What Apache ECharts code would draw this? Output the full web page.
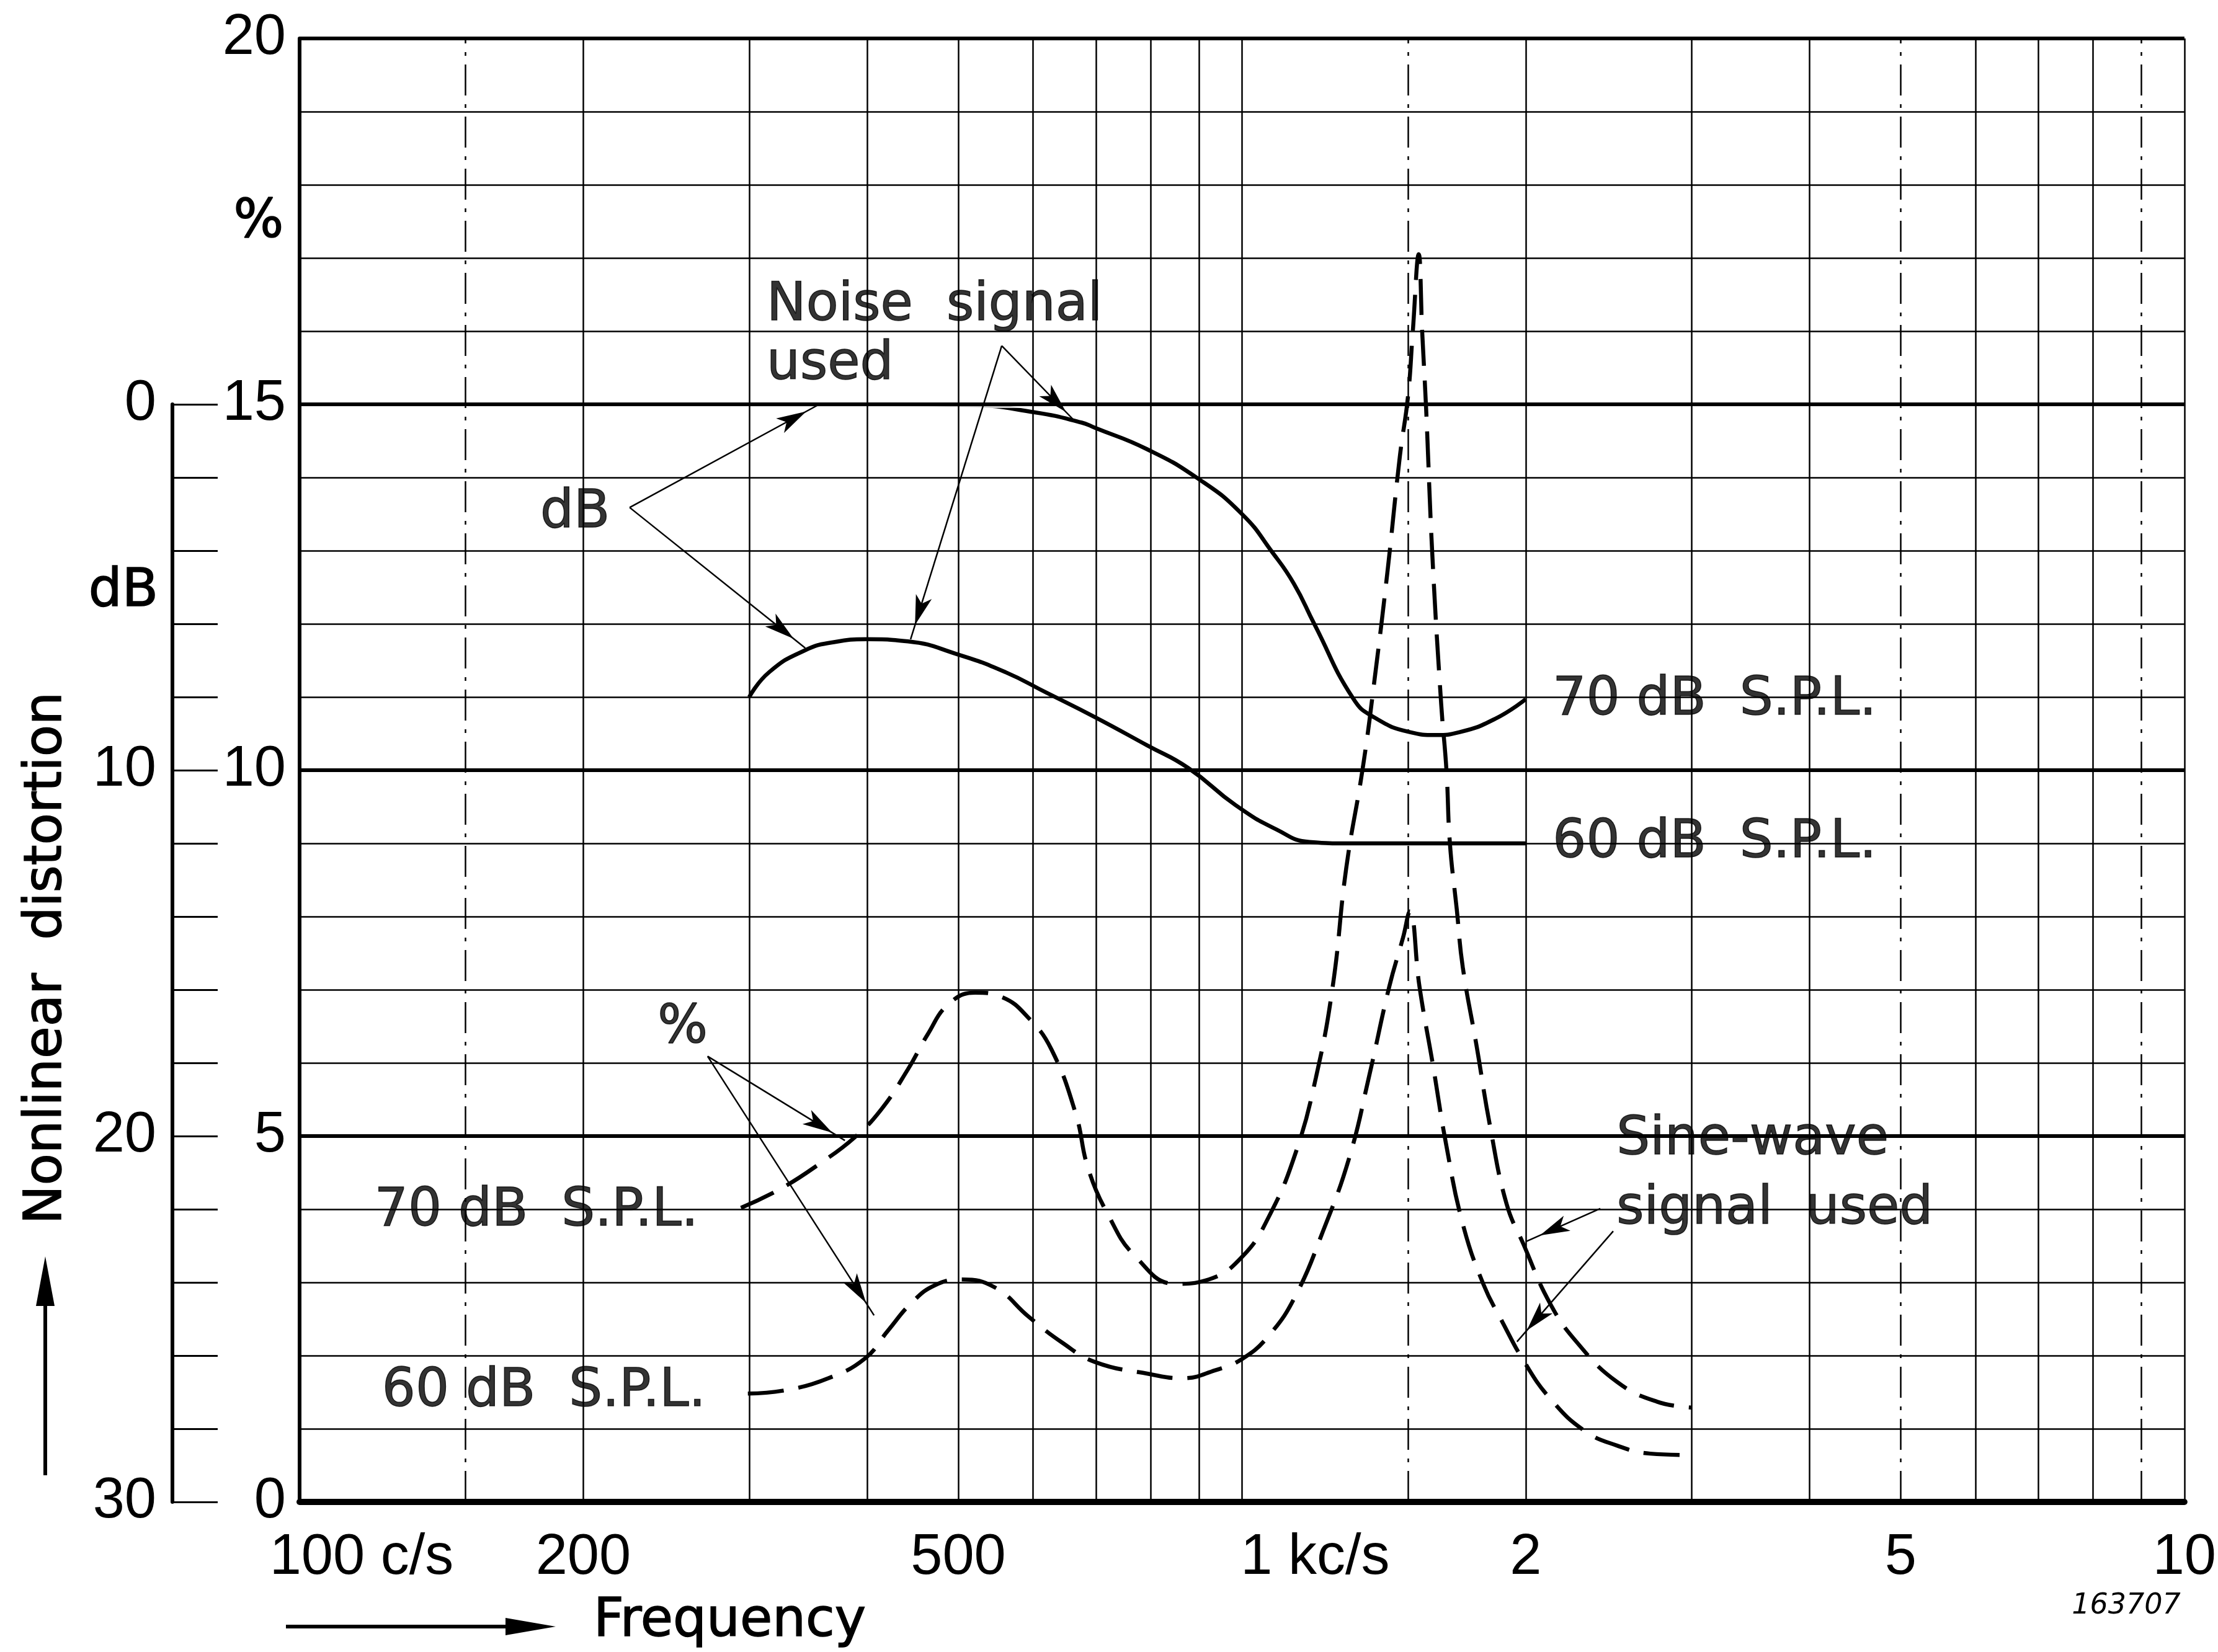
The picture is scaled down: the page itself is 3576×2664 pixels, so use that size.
<!DOCTYPE html>
<html>
<head>
<meta charset="utf-8">
<title>Nonlinear distortion</title>
<script src="https://cdn.jsdelivr.net/npm/echarts@6/dist/echarts.min.js"></script>
<style>
  html, body { margin: 0; padding: 0; background: #fff; }
  #chart { width: 3576px; height: 2664px; }
</style>
</head>
<body>
<div id="chart"></div>
<script>
// frequency in c/s, distortion in %
var noise70Freq = [300, 356, 420, 514, 603, 676, 698, 792, 897, 1000, 1078, 1135, 1193, 1312, 1382, 1507, 1605, 1702, 1855, 2000];
var noise70Pct  = [15.0, 15.0, 15.0, 14.99, 14.89, 14.75, 14.68, 14.39, 13.99, 13.5, 12.97, 12.55, 12.0, 10.98, 10.72, 10.52, 10.48, 10.52, 10.70, 10.97];

var noise60Freq = [300, 315, 344, 369, 400, 442, 500, 561, 620, 697, 793, 877, 985, 1088, 1179, 1300, 1600, 2000];
var noise60Pct  = [11.0, 11.34, 11.64, 11.75, 11.79, 11.76, 11.58, 11.34, 11.06, 10.73, 10.34, 10.03, 9.52, 9.19, 9.02, 9.0, 9.0, 9.0];

var sine70Freq = [294, 324, 358, 388, 414, 442, 464, 488, 521, 556, 594, 628, 666, 687, 722, 770, 850, 922, 1002, 1069,
                  1140, 1198, 1248, 1290, 1344, 1385, 1427, 1471, 1500, 1518, 1540, 1553, 1568, 1592, 1627, 1648, 1662, 1690, 1715, 1774,
                  1833, 1909, 1988, 2121, 2267, 2500, 2757, 3000];
var sine70Pct  = [4.02, 4.28, 4.64, 4.98, 5.36, 5.91, 6.39, 6.80, 6.96, 6.90, 6.61, 6.18, 5.31, 4.55, 3.91, 3.36, 2.98, 3.04, 3.36, 3.91,
                  4.77, 5.80, 7.04, 8.66, 10.05, 11.32, 12.72, 14.30, 15.10, 16.0, 17.05, 16.0, 14.95, 12.95, 10.9, 10.0, 9.0, 8.1, 7.31, 6.23,
                  5.14, 4.07, 3.53, 2.72, 2.18, 1.64, 1.37, 1.29];

var sine60Freq = [299, 329, 364, 398, 421, 446, 472, 504, 547, 594, 644, 699, 796, 864, 937, 1002, 1069, 1140, 1218, 1300,
                  1366, 1433, 1482, 1507, 1543, 1595, 1647, 1715, 1803, 1891, 1994, 2121, 2305, 2500, 2712, 3000];
var sine60Pct  = [1.48, 1.53, 1.69, 1.96, 2.34, 2.72, 2.96, 3.04, 2.93, 2.53, 2.18, 1.91, 1.75, 1.69, 1.80, 1.96, 2.28, 2.82, 3.69, 4.71,
                  5.85, 7.04, 7.71, 8.07, 7.04, 5.96, 4.88, 3.80, 2.98, 2.45, 1.91, 1.42, 0.98, 0.77, 0.66, 0.64];

// axis ticks
var xLabelValues = [100, 200, 500, 1000, 2000, 5000, 10000];
var xLabelTexts  = ['100', '200', '500', '1', '2', '5', '10'];
var xLabelUnits  = [' c/s', '', '', ' kc/s', '', '', ''];
var vGridFreq = [150, 200, 300, 400, 500, 600, 700, 800, 900, 1000, 1500, 2000, 3000, 4000, 5000, 6000, 7000, 8000, 9000, 10000];
var vGridDashed = [150, 1500, 5000, 9000];
var hGridPct = [1, 2, 3, 4, 5, 6, 7, 8, 9, 10, 11, 12, 13, 14, 15, 16, 17, 18, 19, 20];
var hGridMajor = [5, 10, 15, 20];

// annotations: [freq, %] anchors
var notes = [
    { name: 'Noise  signal\nused', value: [285, 15.94], label: { align: 'left', padding: [22, 40, 22, 62], lineHeight: 95 } },
    { name: 'dB', value: [196, 13.51], label: { align: 'center', padding: [10, 16] } },
    { name: '%', value: [255, 6.47], label: { align: 'center', padding: [10, 16] } },
    { name: '70 dB  S.P.L.', value: [273, 3.97], label: { align: 'right', padding: [14, 20, 14, 30] } },
    { name: '60 dB  S.P.L.', value: [278, 1.5], label: { align: 'right', padding: [14, 20, 14, 30] } },
    { name: '70 dB  S.P.L.', value: [2060, 10.95], label: { align: 'left', padding: [14, 30, 14, 24] } },
    { name: '60 dB  S.P.L.', value: [2060, 9.0], label: { align: 'left', padding: [14, 30, 14, 24] } },
    { name: 'Sine-wave\nsignal  used', value: [2322, 4.47], label: { align: 'left', padding: [8, 30, 8, 48], lineHeight: 112 } }
];

var arrows = [
    [[224, 13.59], [356, 15.0]],
    [[224, 13.59], [344, 11.67]],
    [[556, 15.8], [667, 14.75]],
    [[556, 15.8], [445, 11.79]],
    [[271, 6.09], [379, 4.94]],
    [[271, 6.09], [407, 2.55]],
    [[2400, 4.01], [2003, 3.56]],
    [[2477, 3.70], [1958, 2.19]]
];

function pairs(xs, ys) {
    return xs.map(function (x, i) { return [x, ys[i]]; });
}

var digitFont = '"Liberation Sans Narrow", "Liberation Sans", sans-serif';
var textFont = '"DejaVu Sans", sans-serif';

var gridLines = [];
hGridPct.forEach(function (p) {
    gridLines.push({ yAxis: p, lineStyle: { color: '#000', width: hGridMajor.indexOf(p) >= 0 ? 6 : 2.5, type: 'solid' } });
});
vGridFreq.forEach(function (f) {
    gridLines.push({ xAxis: f, lineStyle: { color: '#000', width: 2.5, type: vGridDashed.indexOf(f) >= 0 ? [50, 14, 6, 14] : 'solid' } });
});

var arrowLines = arrows.map(function (a) {
    return [
        { coord: a[0], symbol: 'none' },
        { coord: a[1], symbol: 'arrow', symbolSize: [20, 48], symbolOffset: [0, 24] }
    ];
});

var myChart = echarts.init(document.getElementById('chart'));

var option = {
    animation: false,
    backgroundColor: '#fff',
    grid: [
        { left: 483, right: 39, top: 62, bottom: 242 },
        { left: 278, width: 1, top: 652, bottom: 242 }
    ],
    xAxis: [
        {
            type: 'log', logBase: 10, min: 100, max: 10000, gridIndex: 0,
            axisLine: { show: true, lineStyle: { color: '#000', width: 10 } },
            axisTick: { show: false },
            splitLine: { show: false },
            axisLabel: {
                customValues: xLabelValues,
                margin: 45,
                color: '#000',
                fontSize: 92,
                fontFamily: digitFont,
                formatter: function (v) {
                    var i = xLabelValues.indexOf(Math.round(v));
                    if (i < 0) return '';
                    var u = xLabelUnits[i];
                    if (!u) return xLabelTexts[i];
                    var pad = u.length > 4 ? 'pk' : 'pc';
                    return '{' + pad + '|}' + xLabelTexts[i] + '{u|' + u + '}';
                },
                rich: {
                    pc: { width: 200 },
                    pk: { width: 236 },
                    u: { fontSize: 92, fontFamily: digitFont, color: '#000' }
                }
            }
        },
        { type: 'value', gridIndex: 1, show: false, min: 0, max: 1 }
    ],
    yAxis: [
        {
            type: 'value', gridIndex: 0, min: 0, max: 20, interval: 5,
            axisLine: { show: true, lineStyle: { color: '#000', width: 6 } },
            axisTick: { show: false },
            splitLine: { show: false },
            axisLabel: { margin: 22, color: '#000', fontSize: 92, fontFamily: digitFont }
        },
        {
            type: 'value', gridIndex: 1, inverse: true, min: 0, max: 30, interval: 2,
            axisLine: { show: true, lineStyle: { color: '#000', width: 6 } },
            axisTick: { show: true, inside: true, length: 73, lineStyle: { color: '#000', width: 3 } },
            splitLine: { show: false },
            axisLabel: {
                margin: 26, color: '#000', fontSize: 92, fontFamily: digitFont,
                formatter: function (v) { return v % 10 === 0 ? String(v) : ''; }
            }
        }
    ],
    graphic: [
        { type: 'text', x: 417, y: 360, style: { text: '%', fontSize: 85, fontFamily: textFont, fill: '#000', stroke: '#000', lineWidth: 1.5, align: 'center', verticalAlign: 'middle' } },
        { type: 'text', x: 199, y: 955, style: { text: 'dB', fontSize: 85, fontFamily: textFont, fill: '#000', stroke: '#000', lineWidth: 1.5, align: 'center', verticalAlign: 'middle' } },
        { type: 'text', x: 76, y: 1545, rotation: Math.PI / 2, style: { text: 'Nonlinear  distortion', fontSize: 84, fontFamily: textFont, fill: '#000', stroke: '#000', lineWidth: 1.5, align: 'center', verticalAlign: 'middle' } },
        { type: 'line', shape: { x1: 73, y1: 2379, x2: 73, y2: 2090 }, style: { stroke: '#000', lineWidth: 6 } },
        { type: 'polygon', shape: { points: [[73, 2026], [58, 2106], [88, 2106]] }, style: { fill: '#000' } },
        { type: 'line', shape: { x1: 461, y1: 2623, x2: 830, y2: 2623 }, style: { stroke: '#000', lineWidth: 6 } },
        { type: 'polygon', shape: { points: [[896, 2623], [815, 2609], [815, 2637]] }, style: { fill: '#000' } },
        { type: 'text', x: 957, y: 2616, style: { text: 'Frequency', fontSize: 85, fontFamily: textFont, fill: '#000', stroke: '#000', lineWidth: 1.5, align: 'left', verticalAlign: 'middle' } },
        { type: 'text', x: 3428, y: 2590, style: { text: '163707', fontSize: 46, fontStyle: 'italic', fontFamily: textFont, fill: '#000', align: 'center', verticalAlign: 'middle' } }
    ],
    series: [
        {
            name: 'grid', type: 'line', data: [], z: 1, silent: true,
            markLine: { silent: true, symbol: 'none', label: { show: false }, data: gridLines }
        },
        {
            name: 'Noise 70 dB', type: 'line', data: pairs(noise70Freq, noise70Pct), z: 3,
            showSymbol: false, smooth: 0.5, lineStyle: { color: '#000', width: 6.5 }
        },
        {
            name: 'Noise 60 dB', type: 'line', data: pairs(noise60Freq, noise60Pct), z: 3,
            showSymbol: false, smooth: 0.5, lineStyle: { color: '#000', width: 6.5 }
        },
        {
            name: 'Sine 70 dB', type: 'line', data: pairs(sine70Freq, sine70Pct), z: 3,
            showSymbol: false, smooth: 0.45, lineStyle: { color: '#000', width: 6.5, type: [58, 24] }
        },
        {
            name: 'Sine 60 dB', type: 'line', data: pairs(sine60Freq, sine60Pct), z: 3,
            showSymbol: false, smooth: 0.45, lineStyle: { color: '#000', width: 6.5, type: [58, 24] }
        },
        {
            name: 'notes', type: 'scatter', data: notes, z: 4, silent: true,
            symbolSize: 1, itemStyle: { color: 'rgba(0,0,0,0)' },
            label: {
                show: true, position: 'inside', formatter: '{b}',
                color: '#000', fontSize: 85, fontFamily: textFont,
                textBorderColor: '#000', textBorderWidth: 1.5,
                verticalAlign: 'middle', backgroundColor: '#fff'
            }
        },
        {
            name: 'arrows', type: 'line', data: [], z: 5, silent: true,
            markLine: {
                silent: true, label: { show: false },
                lineStyle: { color: '#000', width: 2.5, type: 'solid' },
                data: arrowLines
            }
        }
    ]
};

option && myChart.setOption(option);
</script>
</body>
</html>
